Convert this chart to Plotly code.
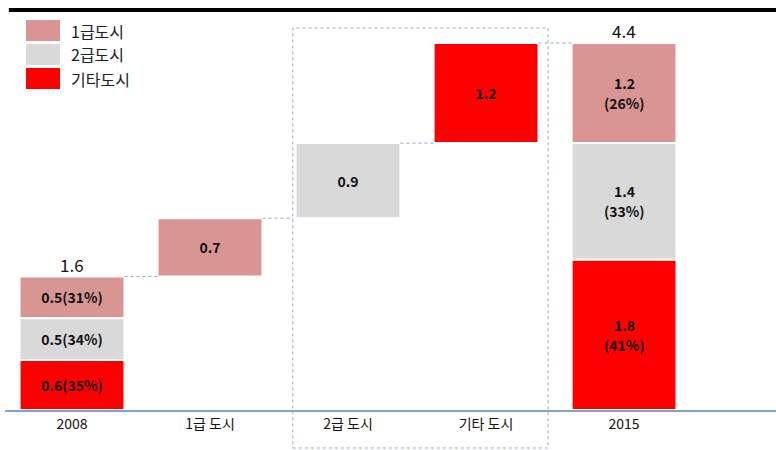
import plotly.graph_objects as go

# ---- data -------------------------------------------------------------
categories = ["2008", "1급 도시", "2급 도시", "기타 도시", "2015"]
series_names = ["1급도시", "2급도시", "기타도시"]
colors = ["#d99594", "#d9d9d9", "#ff0000"]

start_2008 = [0.5, 0.5, 0.6]          # 1급, 2급, 기타
share_2008 = ["31%", "34%", "35%"]
increments = [0.7, 0.9, 1.2]          # growth by city tier
end_2015 = [1.2, 1.4, 1.8]
share_2015 = ["26%", "33%", "41%"]
total_2008 = 1.6
total_2015 = 4.4

# ---- layout helpers ----------------------------------------------------
xpos = list(range(len(categories)))
bar_w = 0.76
font_kr = "Noto Sans CJK KR"
label_font = dict(family=font_kr, size=14, color="#111111")

fig = go.Figure()

# stacked start/end bars: bottom-up order is 기타, 2급, 1급
stack_order = [2, 1, 0]
base0 = 0.0
base1 = 0.0
bases_2008 = {}
bases_2015 = {}
for i in stack_order:
    bases_2008[i] = base0
    bases_2015[i] = base1
    base0 += start_2008[i]
    base1 += end_2015[i]

# floating increments
running = total_2008
inc_bases = []
for v in increments:
    inc_bases.append(running)
    running += v

for i in range(3):
    xs = [xpos[0], xpos[1 + i], xpos[4]]
    ys = [start_2008[i], increments[i], end_2015[i]]
    bs = [bases_2008[i], inc_bases[i], bases_2015[i]]
    txt = [
        f"<b>{start_2008[i]}({share_2008[i]})</b>",
        f"<b>{increments[i]}</b>",
        "",
    ]
    fig.add_trace(go.Bar(
        x=xs, y=ys, base=bs, width=bar_w,
        name=series_names[i],
        marker=dict(color=colors[i], line=dict(color="white", width=2)),
        text=txt, textposition="inside", insidetextanchor="middle",
        textangle=0, textfont=label_font,
        showlegend=False, hoverinfo="skip",
    ))
    # two-line value / share label for the 2015 segments
    mid = bases_2015[i] + end_2015[i] / 2
    fig.add_annotation(x=xpos[4], y=mid, text=f"<b>{end_2015[i]}</b>",
                       showarrow=False, yanchor="middle", yshift=10,
                       font=label_font)
    fig.add_annotation(x=xpos[4], y=mid, text=f"<b>({share_2015[i]})</b>",
                       showarrow=False, yanchor="middle", yshift=-10,
                       font=label_font)

# totals above the stacked bars
for xv, tv in [(xpos[0], total_2008), (xpos[4], total_2015)]:
    fig.add_annotation(x=xv, y=tv, text=f"{tv}", showarrow=False,
                       yanchor="bottom", yshift=-2,
                       font=dict(family=font_kr, size=17, color="#111111"))

# dotted connectors between consecutive bar tops
levels = [total_2008] + [inc_bases[k] + increments[k] for k in range(3)]
conn_color = "#8ea6c8"
half = bar_w / 2
for k, lvl in enumerate(levels):
    x0 = xpos[k] + half
    x1 = xpos[k + 1] - half
    if k == 1:
        x1 = 1.60
    fig.add_shape(type="line", xref="x", yref="y", x0=x0, x1=x1, y0=lvl, y1=lvl,
                  line=dict(color=conn_color, width=1, dash="dot"))

# dotted frame around the 2급 / 기타 groups
fig.add_shape(type="rect", xref="x", yref="paper", x0=1.60, x1=3.45,
              y0=-0.095, y1=0.955,
              line=dict(color=conn_color, width=1, dash="dot"))

# heavy rule at the top
fig.add_shape(type="line", xref="paper", yref="paper", x0=0.005, x1=1, y0=1, y1=1,
              line=dict(color="#000000", width=4))

# legend drawn as swatches
leg_top = [20, 44, 68]
for i in range(3):
    y0p = 1 - (leg_top[i] - 10) / 400
    y1p = 1 - (leg_top[i] + 21 - 10) / 400
    fig.add_shape(type="rect", xref="paper", yref="paper",
                  x0=(26 - 5) / 771, x1=(60 - 5) / 771, y0=y1p, y1=y0p,
                  fillcolor=colors[i], line=dict(width=0))
    fig.add_annotation(xref="paper", yref="paper", x=(69 - 5) / 771,
                       y=(y0p + y1p) / 2, text=series_names[i], showarrow=False,
                       xanchor="left", yanchor="middle",
                       font=dict(family=font_kr, size=16, color="#222222"))

fig.update_layout(
    width=776, height=450,
    margin=dict(l=5, r=0, t=10, b=40),
    paper_bgcolor="white", plot_bgcolor="white",
    barmode="overlay",
    showlegend=False,
    xaxis=dict(
        tickmode="array", tickvals=xpos, ticktext=categories,
        range=[-0.4855, 5.101],
        showgrid=False, zeroline=False, ticks="",
        showline=True, linecolor="#7fa4c4", linewidth=1.5,
        tickfont=dict(family=font_kr, size=14, color="#111111"),
    ),
    yaxis=dict(range=[0, 4.796], visible=False, showgrid=False, zeroline=False),
    font=dict(family=font_kr),
)

fig.write_html("out.html")
